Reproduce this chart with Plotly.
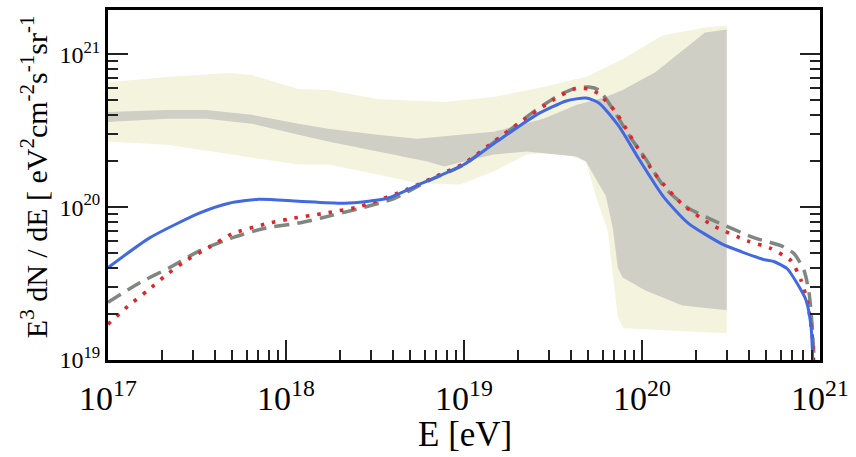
import numpy as np
import plotly.graph_objects as go

# ---- data (log10 E [eV], log10 E^3 dN/dE) ----
# solid blue model
lgE_solid = [17.000, 17.234, 17.513, 17.680, 17.847, 18.070, 18.331, 18.571, 18.738, 19.000,
             19.184, 19.407, 19.574, 19.685, 19.758, 19.869, 19.981, 20.119, 20.259, 20.448,
             20.560, 20.688, 20.744, 20.816, 20.872, 20.922, 20.950, 20.962]
lgF_solid = [19.604, 19.799, 19.961, 20.026, 20.052, 20.039, 20.026, 20.058, 20.143, 20.279,
             20.429, 20.604, 20.695, 20.714, 20.682, 20.532, 20.318, 20.071, 19.896, 19.760,
             19.708, 19.656, 19.643, 19.597, 19.500, 19.390, 19.214, 18.900]

# dashed grey model
lgE_dash = [17.000, 17.178, 17.345, 17.513, 17.696, 17.886, 18.070, 18.198, 18.421, 18.610,
            18.794, 19.000, 19.223, 19.390, 19.535, 19.630, 19.702, 19.758, 19.836, 19.925,
            20.019, 20.131, 20.259, 20.409, 20.632, 20.783, 20.855, 20.911, 20.939, 20.955, 20.972]
lgF_dash = [19.377, 19.506, 19.604, 19.714, 19.799, 19.864, 19.896, 19.929, 19.994, 20.058,
            20.169, 20.279, 20.474, 20.623, 20.734, 20.779, 20.786, 20.766, 20.643, 20.474,
            20.318, 20.123, 19.994, 19.909, 19.799, 19.747, 19.695, 19.584, 19.435, 19.240, 18.900]

# dotted red model
lgE_dot = [17.000, 17.111, 17.223, 17.329, 17.446, 17.563, 17.696, 17.886, 18.014, 18.220,
           18.421, 18.682, 18.866, 19.000, 19.167, 19.334, 19.501, 19.618, 19.702, 19.758,
           19.852, 19.964, 20.075, 20.226, 20.393, 20.593, 20.716, 20.838, 20.894, 20.928,
           20.955, 20.967]
lgF_dot = [19.234, 19.351, 19.455, 19.558, 19.656, 19.734, 19.825, 19.890, 19.922, 19.961,
           20.006, 20.117, 20.214, 20.286, 20.429, 20.571, 20.701, 20.773, 20.773, 20.740,
           20.623, 20.409, 20.214, 20.019, 19.883, 19.779, 19.734, 19.649, 19.519, 19.390,
           19.175, 18.900]

# outer (light) uncertainty band
lgE_outer_hi = [17.000, 17.329, 17.680, 17.808, 18.070, 18.237, 18.515, 18.889, 19.167, 19.446,
                19.630, 19.685, 19.891, 20.114, 20.354, 20.476]
lgF_outer_hi = [20.818, 20.851, 20.877, 20.864, 20.773, 20.766, 20.708, 20.688, 20.721, 20.786,
                20.838, 20.851, 20.968, 21.123, 21.175, 21.188]
lgE_outer_lo = [17.000, 17.329, 17.696, 18.070, 18.237, 18.515, 18.738, 18.978, 19.167, 19.351,
                19.535, 19.685, 19.741, 19.808, 19.841, 19.864, 19.897, 20.075, 20.476]
lgF_outer_lo = [20.429, 20.409, 20.344, 20.279, 20.279, 20.214, 20.156, 20.149, 20.234, 20.344,
                20.364, 20.299, 20.071, 19.844, 19.500, 19.279, 19.208, 19.195, 19.175]

# inner (grey) uncertainty band
lgE_inner_hi = [17.000, 17.329, 17.552, 17.808, 18.070, 18.237, 18.515, 18.738, 18.978, 19.167,
                19.446, 19.630, 19.797, 19.891, 20.075, 20.259, 20.354, 20.476]
lgF_inner_hi = [20.623, 20.636, 20.636, 20.604, 20.545, 20.513, 20.474, 20.448, 20.474, 20.494,
                20.578, 20.669, 20.721, 20.766, 20.883, 21.058, 21.143, 21.162]
lgE_inner_lo = [17.000, 17.329, 17.552, 17.808, 18.070, 18.237, 18.515, 18.794, 18.889, 19.000,
                19.167, 19.351, 19.630, 19.685, 19.797, 19.836, 19.864, 19.891, 20.019, 20.226,
                20.476]
lgF_inner_lo = [20.558, 20.578, 20.578, 20.545, 20.474, 20.429, 20.364, 20.299, 20.266, 20.299,
                20.344, 20.364, 20.331, 20.299, 20.071, 19.864, 19.604, 19.539, 19.455, 19.357,
                19.325]

x_ticks = [1e17, 1e18, 1e19, 1e20, 1e21]
x_ticktext = ["10<sup>17</sup>", "10<sup>18</sup>", "10<sup>19</sup>", "10<sup>20</sup>", "10<sup>21</sup>"]
y_ticks = [1e19, 1e20, 1e21]
y_ticktext = ["10<sup>19</sup>", "10<sup>20</sup>", "10<sup>21</sup>"]


def lin(v):
    return np.power(10.0, np.asarray(v, dtype=float))


def band(lo_x, lo_y, hi_x, hi_y):
    xs = np.concatenate([lin(hi_x), lin(lo_x)[::-1]])
    ys = np.concatenate([lin(hi_y), lin(lo_y)[::-1]])
    return xs, ys


SERIF = "Liberation Serif"
fig = go.Figure()

bx, by = band(lgE_outer_lo, lgF_outer_lo, lgE_outer_hi, lgF_outer_hi)
fig.add_trace(go.Scatter(x=bx, y=by, mode="lines", fill="toself",
                         fillcolor="#f4f4de", line=dict(width=0), hoverinfo="skip"))
bx, by = band(lgE_inner_lo, lgF_inner_lo, lgE_inner_hi, lgF_inner_hi)
fig.add_trace(go.Scatter(x=bx, y=by, mode="lines", fill="toself",
                         fillcolor="#cfcfc5", line=dict(width=0), hoverinfo="skip"))

fig.add_trace(go.Scatter(x=lin(lgE_dash), y=lin(lgF_dash), mode="lines",
                         line=dict(color="#808680", width=3.5, dash="15px,8px", shape="spline", smoothing=0.6)))
fig.add_trace(go.Scatter(x=lin(lgE_dot), y=lin(lgF_dot), mode="lines",
                         line=dict(color="#e0262a", width=3.6, dash="3.5px,8px", shape="spline", smoothing=0.6)))
fig.add_trace(go.Scatter(x=lin(lgE_solid), y=lin(lgF_solid), mode="lines",
                         line=dict(color="#4169e1", width=3, shape="spline", smoothing=0.6)))

minor_x = [m * 10.0 ** d for d in range(17, 21) for m in range(2, 10)]
minor_y = [m * 10.0 ** d for d in range(19, 22) for m in range(2, 10)]

fig.update_xaxes(type="log", range=[17, 21], tickmode="array", tickvals=x_ticks, ticktext=x_ticktext,
                 ticks="inside", ticklen=20, tickwidth=2, tickcolor="#222",
                 minor=dict(tickmode="array", tickvals=minor_x, ticks="inside", ticklen=10,
                            tickwidth=2, tickcolor="#222", showgrid=False),
                 showline=True, linecolor="black", linewidth=3, mirror=True,
                 showgrid=False, zeroline=False, ticklabelstandoff=6,
                 tickfont=dict(family=SERIF, size=34, color="black"))
fig.update_yaxes(type="log", range=[19, 21.29], tickmode="array", tickvals=y_ticks, ticktext=y_ticktext,
                 ticks="inside", ticklen=20, tickwidth=2, tickcolor="#222",
                 minor=dict(tickmode="array", tickvals=minor_y, ticks="inside", ticklen=10,
                            tickwidth=2, tickcolor="#222", showgrid=False),
                 showline=True, linecolor="black", linewidth=3, mirror="ticks",
                 showgrid=False, zeroline=False,
                 tickfont=dict(family=SERIF, size=24, color="black"))

fig.add_annotation(text="E<sup>3</sup> dN / dE [ eV<sup>2</sup>cm<sup>-2</sup>s<sup>-1</sup>sr<sup>-1</sup>",
                   xref="paper", yref="paper", x=-0.1045, y=0.524, textangle=-90,
                   xanchor="center", yanchor="middle", showarrow=False,
                   font=dict(family=SERIF, size=30, color="black"))
fig.add_annotation(text="E [eV]", xref="paper", yref="paper", x=0.501, y=-0.214,
                   xanchor="center", yanchor="middle", showarrow=False,
                   font=dict(family=SERIF, size=35, color="black"))

fig.update_layout(width=856, height=457, margin=dict(l=108, r=30, t=7, b=97),
                  paper_bgcolor="white", plot_bgcolor="white", showlegend=False)

fig.write_html("out.html")
